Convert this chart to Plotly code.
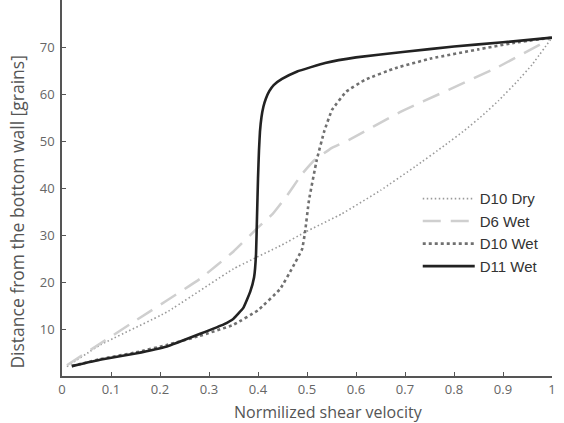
import plotly.graph_objects as go

# Data
d10dry_x = [0.01, 0.078, 0.214, 0.35, 0.449, 0.496, 0.571, 0.65, 0.72, 0.78, 0.822, 0.86, 0.891, 0.93, 0.959, 1.0]
d10dry_y = [2.0, 6.6, 13.6, 22.8, 27.9, 30.6, 34.5, 39.5, 44.5, 49.0, 52.3, 55.6, 58.6, 62.8, 66.2, 72.0]

d6wet_x = [0.01, 0.146, 0.282, 0.35, 0.397, 0.43, 0.46, 0.49, 0.516, 0.55, 0.585, 0.687, 0.789, 0.891, 0.98, 1.0]
d6wet_y = [2.3, 11.5, 20.7, 26.5, 31.3, 34.5, 38.5, 43.0, 46.0, 48.5, 50.2, 56.0, 60.9, 65.8, 70.8, 72.0]

d10wet_x = [0.02, 0.078, 0.15, 0.214, 0.28, 0.35, 0.4, 0.445, 0.47, 0.49, 0.496, 0.504, 0.52, 0.535, 0.551, 0.58, 0.618, 0.68, 0.755, 0.85, 0.924, 1.0]
d10wet_y = [2.1, 3.6, 5.0, 6.6, 8.5, 10.9, 14.0, 18.5, 23.0, 27.0, 30.6, 37.4, 46.0, 52.0, 56.6, 60.5, 63.0, 65.5, 67.6, 69.5, 70.9, 72.0]

d11wet_x = [0.02, 0.08, 0.15, 0.214, 0.282, 0.33, 0.35, 0.37, 0.384, 0.392, 0.396, 0.398, 0.400, 0.402, 0.404, 0.407, 0.411, 0.416, 0.423, 0.432, 0.449, 0.48, 0.537, 0.6, 0.7, 0.8, 0.9, 1.0]
d11wet_y = [2.1, 3.5, 4.8, 6.3, 9.0, 11.0, 12.2, 14.5, 17.9, 21.0, 26.0, 34.0, 42.0, 48.0, 52.0, 55.0, 57.3, 59.0, 60.6, 61.9, 63.2, 64.8, 66.6, 67.8, 69.0, 70.1, 71.0, 72.0]

x_ticks = [0, 0.1, 0.2, 0.3, 0.4, 0.5, 0.6, 0.7, 0.8, 0.9, 1]
x_tick_labels = ["0", "0.1", "0.2", "0.3", "0.4", "0.5", "0.6", "0.7", "0.8", "0.9", "1"]
y_ticks = [10, 20, 30, 40, 50, 60, 70]
x_title = "Normilized shear velocity"
y_title = "Distance from the bottom wall [grains]"

fig = go.Figure()
fig.add_trace(go.Scatter(x=d10dry_x, y=d10dry_y, mode="lines", name="D10 Dry",
                         line=dict(color="#9a9a9a", width=1.6, dash="1.5px,2.5px", shape="spline", smoothing=0.3)))
fig.add_trace(go.Scatter(x=d6wet_x, y=d6wet_y, mode="lines", name="D6 Wet",
                         line=dict(color="#cfcfcf", width=2.5, dash="18px,10px", shape="spline", smoothing=0.3)))
fig.add_trace(go.Scatter(x=d10wet_x, y=d10wet_y, mode="lines", name="D10 Wet",
                         line=dict(color="#707070", width=2.6, dash="3px,3px", shape="spline", smoothing=0.3)))
fig.add_trace(go.Scatter(x=d11wet_x, y=d11wet_y, mode="lines", name="D11 Wet",
                         line=dict(color="#222222", width=2.6, shape="spline", smoothing=0.3)))

axis_common = dict(showgrid=False, zeroline=False, showline=True, linecolor="#555555", linewidth=1.5,
                   ticks="inside", ticklen=4, tickwidth=1.2, tickcolor="#555555", automargin=False,
                   tickfont=dict(family="Open Sans", size=13, color="#666666"))

fig.update_xaxes(range=[0, 1], tickvals=x_ticks, ticktext=x_tick_labels, ticklabelstandoff=1, **axis_common)
fig.update_yaxes(range=[0, 80], tickvals=y_ticks, ticklabelstandoff=3, **axis_common)

fig.add_annotation(text=x_title, xref="paper", yref="paper", x=0.544, y=-0.0957,
                   xanchor="center", yanchor="middle", showarrow=False,
                   font=dict(family="Open Sans", size=16, color="#555555"))
fig.add_annotation(text=y_title, xref="paper", yref="paper", x=-0.092, y=0.437,
                   xanchor="center", yanchor="middle", showarrow=False, textangle=-90,
                   font=dict(family="Open Sans", size=17.5, color="#555555"))

fig.update_layout(
    width=564, height=423,
    margin=dict(l=62, r=12, t=0, b=47),
    plot_bgcolor="white", paper_bgcolor="white",
    legend=dict(x=0.726, y=0.515, xanchor="left", yanchor="top",
                font=dict(family="Liberation Sans", size=15, color="#333333"),
                bgcolor="rgba(0,0,0,0)", tracegroupgap=0, itemwidth=52),
)

fig.write_html("out.html")
